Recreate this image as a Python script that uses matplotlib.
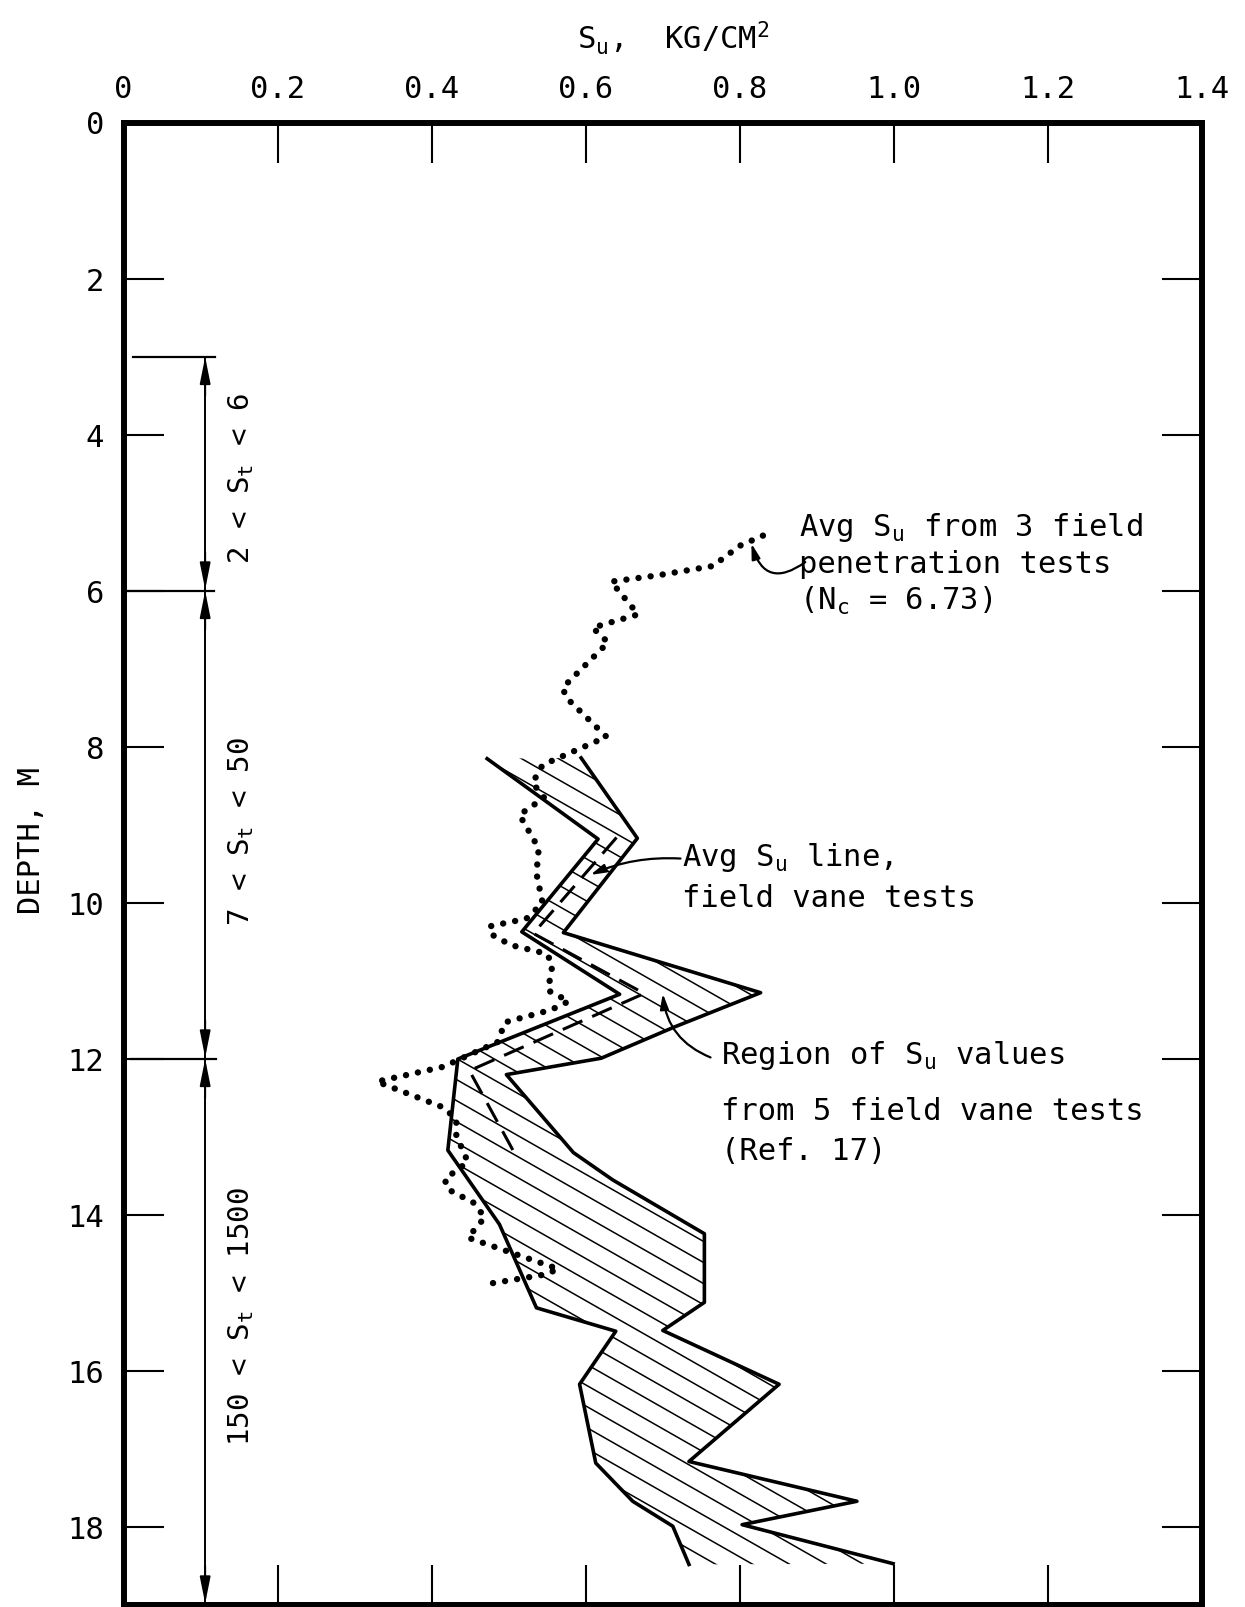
import matplotlib
matplotlib.use("Agg")
import matplotlib.pyplot as plt
import numpy as np
from matplotlib.patches import Polygon
from matplotlib.collections import LineCollection

plt.rcParams["font.family"] = ["DejaVu Sans Mono", "DejaVu Sans"]
plt.rcParams["mathtext.fontset"] = "custom"
plt.rcParams["mathtext.rm"] = "DejaVu Sans Mono"
plt.rcParams["mathtext.it"] = "DejaVu Sans Mono"
plt.rcParams["mathtext.default"] = "rm"

# Avg Su from 3 field penetration tests (Nc = 6.73)
pen_su = [0.830, 0.800, 0.765, 0.693, 0.633, 0.668, 0.609, 0.629, 0.570, 0.575,
          0.627, 0.544, 0.531, 0.546, 0.514, 0.539, 0.536, 0.544, 0.523, 0.475,
          0.479, 0.503, 0.549, 0.557, 0.551, 0.578, 0.555, 0.495, 0.486, 0.415,
          0.329, 0.415, 0.432, 0.432, 0.447, 0.417, 0.421, 0.454, 0.469, 0.447,
          0.564, 0.549, 0.469]
pen_depth = [5.29, 5.42, 5.68, 5.80, 5.88, 6.30, 6.47, 6.66, 7.24, 7.37,
             7.87, 8.23, 8.46, 8.65, 8.87, 9.30, 9.62, 10.00, 10.20, 10.30,
             10.41, 10.54, 10.65, 10.78, 11.12, 11.26, 11.37, 11.53, 11.78, 12.10,
             12.29, 12.62, 12.77, 12.98, 13.32, 13.54, 13.67, 13.84, 14.03, 14.29,
             14.69, 14.76, 14.89]

# region of Su values from 5 field vane tests (Ref. 17)
vane_min_su = [0.472, 0.616, 0.517, 0.644, 0.434, 0.421, 0.488, 0.536, 0.639,
               0.592, 0.613, 0.661, 0.713, 0.734]
vane_min_depth = [8.15, 9.18, 10.37, 11.17, 12.00, 13.17, 14.12, 15.19, 15.49,
                  16.17, 17.18, 17.67, 17.99, 18.48]
vane_max_su = [0.594, 0.667, 0.571, 0.827, 0.715, 0.620, 0.497, 0.584, 0.635,
               0.754, 0.754, 0.700, 0.851, 0.734, 0.952, 0.803, 0.999]
vane_max_depth = [8.14, 9.17, 10.38, 11.15, 11.59, 11.99, 12.20, 13.20, 13.55,
                  14.24, 15.12, 15.48, 16.17, 17.16, 17.67, 17.97, 18.47]

# avg Su line, field vane tests
vane_avg_su = [0.640, 0.532, 0.676, 0.449, 0.510]
vane_avg_depth = [9.16, 10.39, 11.16, 12.15, 13.25]

# sensitivity zones
zone_bounds = [3.0, 6.0, 12.0, 19.0]
zone_labels = [r"2 < S$_t$ < 6", r"7 < S$_t$ < 50", r"150 < S$_t$ < 1500"]
zone_label_depth = [4.56, 9.08, 15.3]

su_ticks = [0, 0.2, 0.4, 0.6, 0.8, 1.0, 1.2, 1.4]
su_labels = ["0", "0.2", "0.4", "0.6", "0.8", "1.0", "1.2", "1.4"]
depth_ticks = [0, 2, 4, 6, 8, 10, 12, 14, 16, 18]

fig = plt.figure(figsize=(12.45, 16.07), dpi=100)
ax = fig.add_axes([0.0992, 0.00124, 0.8663, 0.92222])

# hatched vane region
outline = list(zip(vane_min_su, vane_min_depth)) + list(zip(vane_max_su, vane_max_depth))[::-1]
region = Polygon(outline, closed=True, facecolor="none", edgecolor="none")
ax.add_patch(region)
slope = 5.63
offsets = np.arange(2.0, 16.6, 0.27)
hatch = LineCollection([[(0.0, o), (1.4, o + slope * 1.4)] for o in offsets],
                       colors="black", linewidths=1.1)
ax.add_collection(hatch, autolim=False)
hatch.set_clip_path(region)

ax.plot(vane_min_su, vane_min_depth, color="black", lw=2.6)
ax.plot(vane_max_su, vane_max_depth, color="black", lw=2.6)
ax.plot(vane_avg_su, vane_avg_depth, color="black", lw=2.2, linestyle=(0, (7, 3.5)))
ax.plot(pen_su, pen_depth, color="black", lw=4.6, linestyle=(0, (0.01, 1.9)),
        dash_capstyle="round")

# zone dimension line with arrows
x_dim = 0.106
ax.plot([x_dim, x_dim], [zone_bounds[0], zone_bounds[-1]], color="black", lw=1.4)
ax.plot([0.012, 0.119], [3, 3], color="black", lw=1.6)
ax.plot([0.0, 0.117], [6, 6], color="black", lw=1.6)
ax.plot([0.01, 0.12], [12, 12], color="black", lw=1.6)
head = "-|>,head_length=1.6,head_width=0.32"
for i, b in enumerate(zone_bounds):
    if i > 0:
        ax.annotate("", xy=(x_dim, b - 0.02), xytext=(x_dim, b - 0.5),
                    arrowprops=dict(arrowstyle=head, color="black", lw=1.4,
                                    shrinkA=0, shrinkB=0))
    if i < len(zone_bounds) - 1:
        ax.annotate("", xy=(x_dim, b), xytext=(x_dim, b + 0.5),
                    arrowprops=dict(arrowstyle=head, color="black", lw=1.4,
                                    shrinkA=0, shrinkB=0))
for lab, d in zip(zone_labels, zone_label_depth):
    ax.text(0.153, d, lab, rotation=90, ha="center", va="center", fontsize=21)

# annotations
ax.text(0.877, 5.30, r"Avg S$_u$ from 3 field", fontsize=22, va="baseline")
ax.text(0.877, 5.77, "penetration tests", fontsize=22, va="baseline")
ax.text(0.877, 6.24, r"(N$_c$ = 6.73)", fontsize=22, va="baseline")
ax.annotate("", xy=(0.815, 5.39), xytext=(0.885, 5.63),
            arrowprops=dict(arrowstyle="-|>,head_length=0.9,head_width=0.25",
                            color="black", lw=1.6, shrinkA=0, shrinkB=0,
                            connectionstyle="arc3,rad=-0.7"))

ax.text(0.725, 9.53, r"Avg S$_u$ line,", fontsize=22, va="baseline")
ax.text(0.725, 10.05, "field vane tests", fontsize=22, va="baseline")
ax.annotate("", xy=(0.606, 9.64), xytext=(0.723, 9.43),
            arrowprops=dict(arrowstyle="-|>,head_length=0.9,head_width=0.25",
                            color="black", lw=1.6, shrinkA=0, shrinkB=0,
                            connectionstyle="arc3,rad=0.12"))

ax.text(0.776, 12.06, r"Region of S$_u$ values", fontsize=22, va="baseline")
ax.text(0.776, 12.78, "from 5 field vane tests", fontsize=22, va="baseline")
ax.text(0.776, 13.29, "(Ref. 17)", fontsize=22, va="baseline")
ax.annotate("", xy=(0.700, 11.16), xytext=(0.762, 11.98),
            arrowprops=dict(arrowstyle="-|>,head_length=0.9,head_width=0.25",
                            color="black", lw=1.6, shrinkA=0, shrinkB=0,
                            connectionstyle="arc3,rad=-0.3"))

# axes styling
ax.set_xlim(0, 1.4)
ax.set_ylim(19.0, 0)
for s in ax.spines.values():
    s.set_linewidth(4.3)
ax.set_xticks(su_ticks)
ax.set_xticklabels(su_labels)
ax.set_yticks(depth_ticks)
ax.set_yticklabels([str(t) for t in depth_ticks])
ax.tick_params(axis="x", direction="in", length=29, width=1.5, top=True, bottom=True,
               labeltop=True, labelbottom=False, labelsize=22, pad=14)
ax.tick_params(axis="y", direction="in", length=29, width=1.5, left=True, right=True,
               labelleft=True, labelright=False, labelsize=22, pad=14)

fig.text(0.541, 1 - 49 / 1607, r"S$_u$,  KG/CM$^2$", ha="center", va="baseline", fontsize=22)
fig.text(0.025, 1 - 840 / 1607, "DEPTH, M", rotation=90, ha="center", va="center", fontsize=22)

fig.savefig("out.png", dpi=100, facecolor="white")
